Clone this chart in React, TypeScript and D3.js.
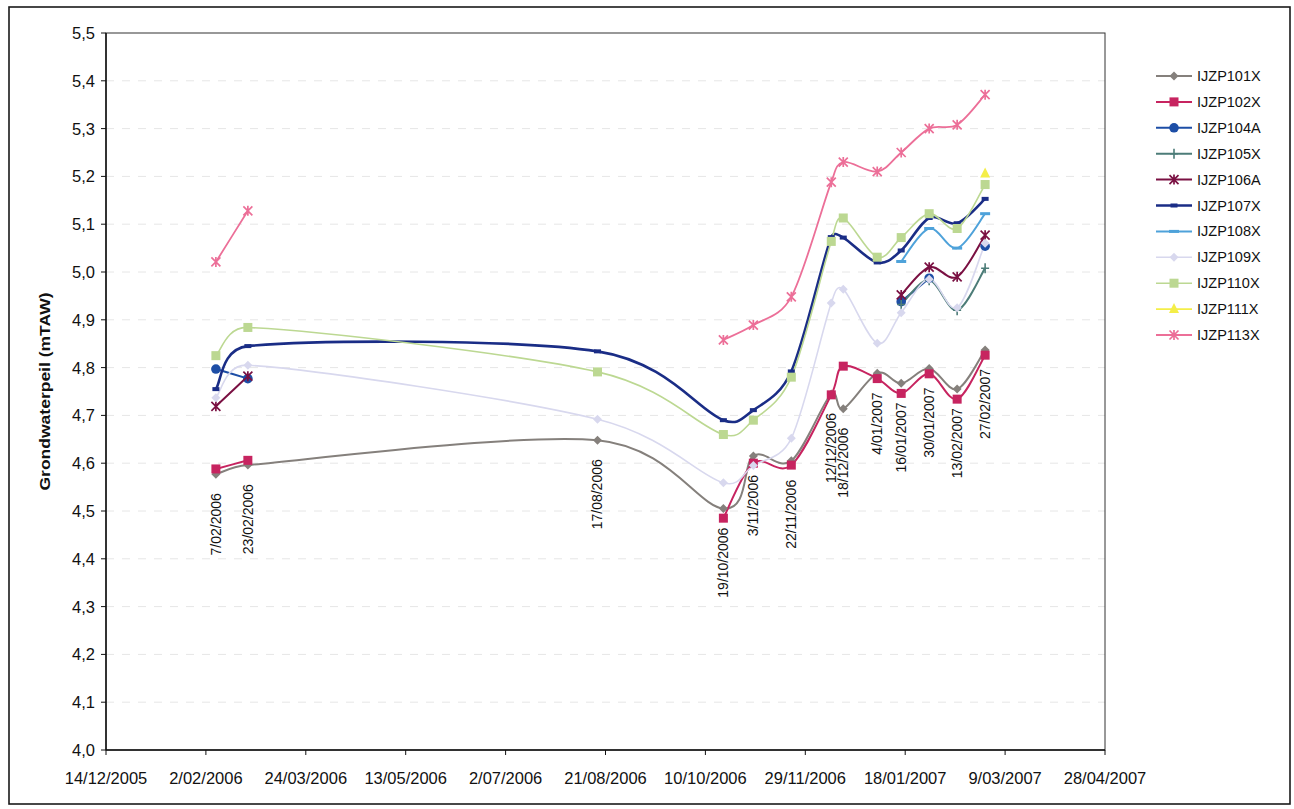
import React from "react";
import * as d3 from "d3";

// Measurement dates (groundwater level readings)
const measurementDates = [
  "2006-02-07", "2006-02-23", "2006-08-17", "2006-10-19", "2006-11-03",
  "2006-11-22", "2006-12-12", "2006-12-18", "2007-01-04", "2007-01-16",
  "2007-01-30", "2007-02-13", "2007-02-27",
];

// Levels per piezometer (mTAW); null = no reading
const ijzp101x = [4.577, 4.596, 4.648, 4.505, 4.615, 4.605, 4.745, 4.714, 4.788, 4.767, 4.798, 4.755, 4.837];
const ijzp102x = [4.588, 4.606, null, 4.485, 4.6, 4.596, 4.743, 4.803, 4.777, 4.746, 4.787, 4.734, 4.826];
const ijzp104a = [4.797, 4.777, null, null, null, null, null, null, null, 4.938, 4.987, null, 5.054];
const ijzp105x = [null, null, null, null, null, null, null, null, null, 4.932, 4.983, 4.92, 5.008];
const ijzp106a = [4.719, 4.782, null, null, null, null, null, null, null, 4.952, 5.01, 4.99, 5.077];
const ijzp107x = [4.755, 4.845, 4.834, 4.69, 4.711, 4.792, 5.073, 5.072, 5.02, 5.045, 5.113, 5.102, 5.153];
const ijzp108x = [null, null, null, null, null, null, null, null, null, 5.022, 5.091, 5.05, 5.122];
const ijzp109x = [4.737, 4.805, 4.692, 4.559, 4.595, 4.652, 4.935, 4.964, 4.851, 4.915, 4.985, 4.925, 5.06];
const ijzp110x = [4.825, 4.884, 4.791, 4.66, 4.69, 4.78, 5.064, 5.113, 5.031, 5.072, 5.122, 5.091, 5.183];
const ijzp111x = [null, null, null, null, null, null, null, null, null, null, null, null, 5.206];
const ijzp113x = [5.021, 5.128, null, 4.858, 4.889, 4.948, 5.188, 5.23, 5.21, 5.25, 5.3, 5.308, 5.371];

const seriesNames = [
  "IJZP101X", "IJZP102X", "IJZP104A", "IJZP105X", "IJZP106A", "IJZP107X",
  "IJZP108X", "IJZP109X", "IJZP110X", "IJZP111X", "IJZP113X",
];
const seriesValues = [
  ijzp101x, ijzp102x, ijzp104a, ijzp105x, ijzp106a, ijzp107x,
  ijzp108x, ijzp109x, ijzp110x, ijzp111x, ijzp113x,
];

const xTickLabels = [
  "14/12/2005", "2/02/2006", "24/03/2006", "13/05/2006", "2/07/2006", "21/08/2006",
  "10/10/2006", "29/11/2006", "18/01/2007", "9/03/2007", "28/04/2007",
];
const yTicks = [4.0, 4.1, 4.2, 4.3, 4.4, 4.5, 4.6, 4.7, 4.8, 4.9, 5.0, 5.1, 5.2, 5.3, 5.4, 5.5];

type MarkerKind = "diamond" | "square" | "circle" | "plus" | "star" | "dash" | "thinDash" | "triangle";
interface SeriesStyle { color: string; width: number; marker: MarkerKind; }

const styles: SeriesStyle[] = [
  { color: "#85807c", width: 2, marker: "diamond" },
  { color: "#c72460", width: 2, marker: "square" },
  { color: "#1d4ea6", width: 2, marker: "circle" },
  { color: "#4c7c78", width: 2, marker: "plus" },
  { color: "#7a1042", width: 2, marker: "star" },
  { color: "#1a2d86", width: 2.6, marker: "dash" },
  { color: "#4ea2da", width: 2, marker: "thinDash" },
  { color: "#d8d8ee", width: 1.6, marker: "diamond" },
  { color: "#bcd892", width: 1.6, marker: "square" },
  { color: "#f4ee48", width: 1.6, marker: "triangle" },
  { color: "#ec6f98", width: 1.8, marker: "star" },
];

const W = 1294;
const H = 809;
const plot = { left: 106, right: 1105, top: 33, bottom: 750 };
const FONT = "'Liberation Sans', Arial, Helvetica, sans-serif";

const parseIso = d3.utcParse("%Y-%m-%d");
const parseTick = d3.utcParse("%d/%m/%Y");
const fmtLabel = d3.utcFormat("%-d/%m/%Y");
const fmtY = (v: number) => d3.format(".1f")(v).replace(".", ",");

// Spreadsheet-style smoothed line: cubic Bezier segments whose handles follow
// the neighbouring points (1/6 of the chord), limited to half the segment length.
function smoothCurve(context: any) {
  let pts: [number, number][] = [];
  const cap = (t: [number, number], max: number): [number, number] => {
    const len = Math.hypot(t[0], t[1]);
    return len > max && len > 0 ? [(t[0] * max) / len, (t[1] * max) / len] : t;
  };
  return {
    areaStart() {},
    areaEnd() {},
    lineStart() {
      pts = [];
    },
    point(x: number, y: number) {
      pts.push([+x, +y]);
    },
    lineEnd() {
      const n = pts.length;
      if (!n) return;
      context.moveTo(pts[0][0], pts[0][1]);
      for (let i = 0; i < n - 1; i++) {
        const p0 = pts[Math.max(i - 1, 0)];
        const p1 = pts[i];
        const p2 = pts[i + 1];
        const p3 = pts[Math.min(i + 2, n - 1)];
        const half = Math.hypot(p2[0] - p1[0], p2[1] - p1[1]) / 2;
        const t1 = cap([(p2[0] - p0[0]) / 6, (p2[1] - p0[1]) / 6], half);
        const t2 = cap([(p3[0] - p1[0]) / 6, (p3[1] - p1[1]) / 6], half);
        context.bezierCurveTo(p1[0] + t1[0], p1[1] + t1[1], p2[0] - t2[0], p2[1] - t2[1], p2[0], p2[1]);
      }
    },
  };
}

function Marker({ kind, x, y, color }: { kind: MarkerKind; x: number; y: number; color: string }) {
  switch (kind) {
    case "diamond":
      return <polygon points={`${x},${y - 4.5} ${x + 4.5},${y} ${x},${y + 4.5} ${x - 4.5},${y}`} fill={color} />;
    case "square":
      return <rect x={x - 4.5} y={y - 4.5} width={9} height={9} fill={color} />;
    case "circle":
      return <circle cx={x} cy={y} r={4.8} fill={color} />;
    case "plus":
      return <path d={`M${x - 4},${y}H${x + 4}M${x},${y - 5}V${y + 5}`} stroke={color} strokeWidth={1.6} fill="none" />;
    case "star":
      return (
        <path
          d={`M${x - 4.5},${y - 4.5}L${x + 4.5},${y + 4.5}M${x - 4.5},${y + 4.5}L${x + 4.5},${y - 4.5}M${x},${y - 5}V${y + 5}`}
          stroke={color}
          strokeWidth={1.7}
          fill="none"
        />
      );
    case "dash":
      return <rect x={x - 3.5} y={y - 2} width={7} height={4} fill={color} />;
    case "thinDash":
      return <rect x={x - 5} y={y - 1.5} width={10} height={3} fill={color} />;
    case "triangle":
      return <polygon points={`${x},${y - 6} ${x + 5},${y + 4} ${x - 5},${y + 4}`} fill={color} />;
  }
  return null;
}

export default function App() {
  const dates = measurementDates.map((d) => parseIso(d) as Date);
  const tickDates = xTickLabels.map((t) => parseTick(t) as Date);

  const x = d3
    .scaleUtc()
    .domain([tickDates[0], tickDates[tickDates.length - 1]])
    .range([plot.left, plot.right]);
  const y = d3.scaleLinear().domain([4.0, 5.5]).range([plot.bottom, plot.top]);

  const line = d3
    .line<number | null>()
    .defined((v) => v !== null)
    .x((_, i) => x(dates[i]))
    .y((v) => y(v as number))
    .curve(smoothCurve as any);

  const legendX = 1156;
  const legendY0 = 76;
  const legendStep = 25.9;

  return (
    <svg
      width={W}
      height={H}
      viewBox={`0 0 ${W} ${H}`}
      style={{ position: "absolute", left: 0, top: 0, background: "#fff" }}
      fontFamily={FONT}
    >
      <rect x={0} y={0} width={W} height={H} fill="#fff" />
      <rect x={9} y={7} width={1281} height={797} fill="none" stroke="#1a1a1a" strokeWidth={1.6} />

      {/* horizontal gridlines */}
      {yTicks.slice(1, -1).map((t) => (
        <line
          key={`g${t}`}
          x1={plot.left}
          x2={plot.right}
          y1={y(t)}
          y2={y(t)}
          stroke="#e6e6e6"
          strokeWidth={1}
          strokeDasharray="8,8"
        />
      ))}

      {/* plot frame */}
      <rect
        x={plot.left}
        y={plot.top}
        width={plot.right - plot.left}
        height={plot.bottom - plot.top}
        fill="none"
        stroke="#333"
        strokeWidth={1}
      />
      <line x1={plot.left} x2={plot.left} y1={plot.top} y2={plot.bottom} stroke="#111" strokeWidth={1.5} />
      <line x1={plot.left} x2={plot.right} y1={plot.bottom} y2={plot.bottom} stroke="#111" strokeWidth={1.5} />

      {/* y axis */}
      {yTicks.map((t) => (
        <g key={`y${t}`}>
          <line x1={plot.left - 5} x2={plot.left} y1={y(t)} y2={y(t)} stroke="#111" strokeWidth={1} />
          <text x={plot.left - 11} y={y(t)} dy="0.36em" textAnchor="end" fontSize={16.5} fill="#111">
            {fmtY(t)}
          </text>
        </g>
      ))}
      <text
        transform={`translate(45,${(plot.top + plot.bottom) / 2}) rotate(-90)`}
        textAnchor="middle"
        dy="0.35em"
        fontSize={15}
        fontWeight="bold"
        fill="#111"
        textLength={198}
        lengthAdjust="spacingAndGlyphs"
      >
        Grondwaterpeil (mTAW)
      </text>

      {/* x axis */}
      {tickDates.map((d, i) => (
        <g key={`x${i}`}>
          <line x1={x(d)} x2={x(d)} y1={plot.bottom} y2={plot.bottom + 5} stroke="#111" strokeWidth={1} />
          <text x={x(d)} y={plot.bottom + 34} textAnchor="middle" fontSize={16.5} fill="#111">
            {xTickLabels[i]}
          </text>
        </g>
      ))}

      {/* series lines */}
      {seriesValues.map((vals, s) => (
        <path
          key={`l${s}`}
          d={line(vals) || ""}
          fill="none"
          stroke={styles[s].color}
          strokeWidth={styles[s].width}
          strokeLinejoin="round"
        />
      ))}

      {/* series markers */}
      {seriesValues.map((vals, s) =>
        vals.map((v, i) =>
          v === null ? null : (
            <Marker key={`m${s}-${i}`} kind={styles[s].marker} x={x(dates[i])} y={y(v)} color={styles[s].color} />
          )
        )
      )}

      {/* date labels under IJZP101X readings */}
      {dates.map((d, i) => {
        const px = x(d);
        const py = y(ijzp101x[i]) + 19;
        return (
          <text
            key={`dl${i}`}
            transform={`translate(${px},${py}) rotate(-90)`}
            textAnchor="end"
            dy="0.35em"
            fontSize={14}
            fill="#111"
          >
            {fmtLabel(d)}
          </text>
        );
      })}

      {/* legend */}
      {seriesNames.map((name, s) => {
        const ly = legendY0 + s * legendStep;
        return (
          <g key={`lg${s}`}>
            <line x1={legendX} x2={legendX + 36} y1={ly} y2={ly} stroke={styles[s].color} strokeWidth={styles[s].width} />
            <Marker kind={styles[s].marker} x={legendX + 18} y={ly} color={styles[s].color} />
            <text x={legendX + 41} y={ly} dy="0.35em" fontSize={14.5} fill="#111">
              {name}
            </text>
          </g>
        );
      })}
    </svg>
  );
}
